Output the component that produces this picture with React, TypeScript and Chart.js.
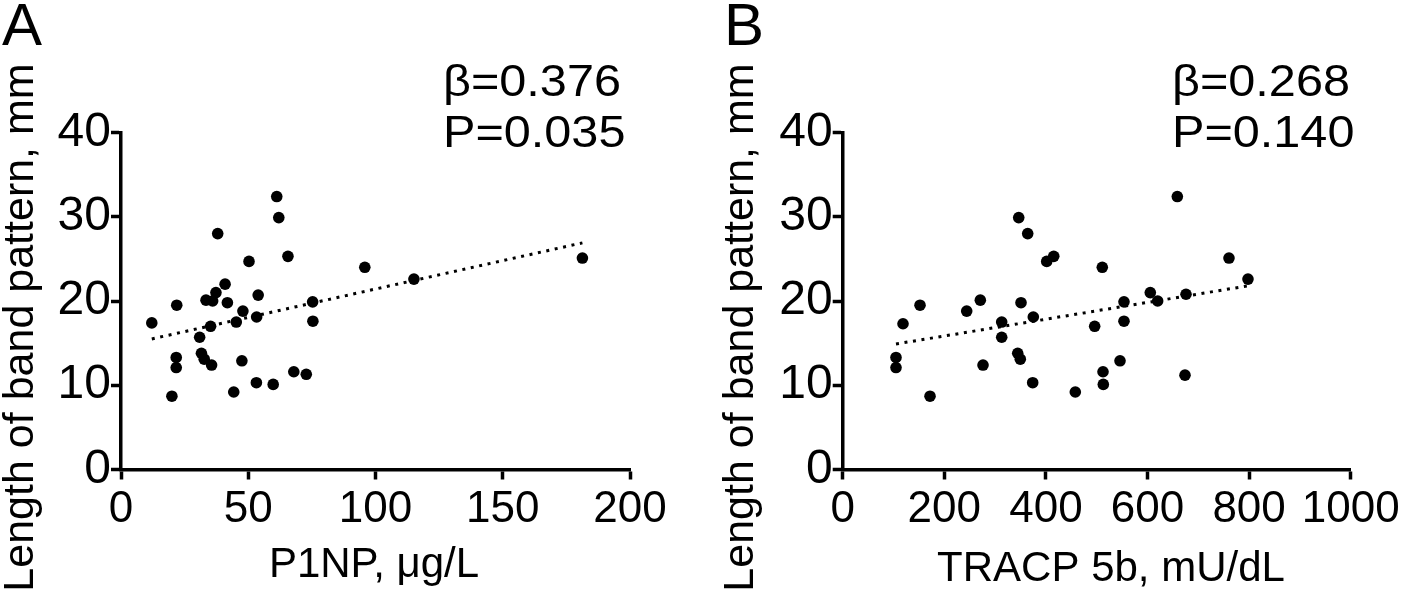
import React, { useEffect, useRef } from "react";
import { Chart, registerables } from "chart.js";

Chart.register(...registerables);

// ---- Data ----
const p1npX = [61.2, 62.0, 38.0, 65.6, 50.3, 40.9, 37.3, 53.9, 33.4, 36.0, 41.8, 21.9, 75.3, 47.9, 45.3, 53.3, 12.1, 35.2, 75.4, 30.9, 31.6, 32.7, 35.6, 21.7, 21.7, 47.5, 67.9, 72.8, 53.2, 59.8, 44.3, 20.0, 95.8, 115.1, 181.3];
const p1npY = [32.4, 29.9, 28.0, 25.3, 24.7, 22.0, 21.0, 20.7, 20.1, 20.0, 19.8, 19.5, 19.9, 18.8, 17.5, 18.1, 17.4, 17.0, 17.6, 15.7, 13.8, 13.1, 12.4, 13.3, 12.1, 12.9, 11.6, 11.3, 10.3, 10.1, 9.2, 8.7, 24.0, 22.6, 25.1];

const tracpX = [346.5, 364.2, 401.6, 415.4, 152.2, 270.9, 244.1, 351.0, 118.7, 313.0, 375.2, 313.0, 104.9, 104.9, 344.5, 349.6, 276.2, 374.0, 171.9, 457.9, 658.7, 760.4, 511.0, 797.8, 605.5, 620.0, 675.8, 553.7, 496.0, 553.7, 545.9, 512.4, 513.0, 673.8];
const tracpY = [29.9, 28.0, 24.7, 25.3, 19.5, 20.1, 18.8, 19.8, 17.3, 17.5, 18.1, 15.7, 13.3, 12.1, 13.8, 13.1, 12.4, 10.3, 8.7, 9.2, 32.4, 25.1, 24.0, 22.6, 21.0, 20.0, 20.8, 19.9, 17.0, 17.6, 12.9, 11.6, 10.1, 11.2];

const p1npTrendX = [12.1, 181.3];
const p1npTrendY = [15.5, 26.9];
const tracpTrendX = [104.9, 797.8];
const tracpTrendY = [14.9, 21.8];

const yTicks = [0, 10, 20, 30, 40];
const p1npTicks = [0, 50, 100, 150, 200];
const tracpTicks = [0, 200, 400, 600, 800, 1000];

const yTitle = "Length of band pattern, mm";
const p1npTitle = "P1NP, \u03bcg/L";
const tracpTitle = "TRACP 5b, mU/dL";
const p1npStats = ["\u03b2=0.376", "P=0.035"];
const tracpStats = ["\u03b2=0.268", "P=0.140"];

const FONT = '"Liberation Sans", Arial, Helvetica, sans-serif';
const CW = 709;
const CH = 593;

type PanelCfg = {
  left: number;
  letter: string;
  letterX: number;
  xs: number[];
  ys: number[];
  tx: number[];
  ty: number[];
  xTicks: number[];
  xTitle: string;
  xTitleX: number;
  xTitleY: number;
  stats: string[];
  statsX: number;
  yTitleX: number;
  axisLeft: number;
  axisRight: number;
};

const panels: PanelCfg[] = [
  {
    left: 0, letter: "A", letterX: 2,
    xs: p1npX, ys: p1npY, tx: p1npTrendX, ty: p1npTrendY,
    xTicks: p1npTicks, xTitle: p1npTitle, xTitleX: 374, xTitleY: 577,
    stats: p1npStats, statsX: 443, yTitleX: 33,
    axisLeft: 121, axisRight: 630,
  },
  {
    left: CW, letter: "B", letterX: 15,
    xs: tracpX, ys: tracpY, tx: tracpTrendX, ty: tracpTrendY,
    xTicks: tracpTicks, xTitle: tracpTitle, xTitleX: 402, xTitleY: 581,
    stats: tracpStats, statsX: 463, yTitleX: 44,
    axisLeft: 133.7, axisRight: 641.7,
  },
];

function Panel({ cfg }: { cfg: PanelCfg }) {
  const ref = useRef<HTMLCanvasElement | null>(null);
  useEffect(() => {
    if (!ref.current) return;
    const textPlugin = {
      id: "texts",
      afterDraw(chart: any) {
        const ctx = chart.ctx;
        ctx.save();
        ctx.fillStyle = "#000";
        ctx.textBaseline = "alphabetic";
        ctx.textAlign = "left";
        ctx.font = `60px ${FONT}`;
        ctx.fillText(cfg.letter, cfg.letterX, 45);
        ctx.font = `45px ${FONT}`;
        for (let i = 0; i < cfg.stats.length; i++) {
          ctx.save();
          ctx.translate(cfg.statsX, i === 0 ? 96 : 147);
          ctx.scale(1.08, 1);
          ctx.fillText(cfg.stats[i], 0, 0);
          ctx.restore();
        }
        ctx.font = `42px ${FONT}`;
        ctx.textAlign = "center";
        ctx.fillText(cfg.xTitle, cfg.xTitleX, cfg.xTitleY);
        ctx.translate(cfg.yTitleX, 327.5);
        ctx.rotate(-Math.PI / 2);
        ctx.font = `43px ${FONT}`;
        ctx.fillText(yTitle, 0, 0);
        ctx.restore();
      },
    };
    const axisCommon = {
      type: "linear" as const,
      border: { display: true, color: "#000", width: 3.5 },
      grid: {
        display: true,
        drawOnChartArea: false,
        drawTicks: true,
        tickLength: 10,
        tickWidth: 3.5,
        tickColor: "#000",
        color: "#000",
      },
    };
    const chart = new Chart(ref.current, {
      type: "scatter",
      data: {
        datasets: [
          {
            type: "line",
            data: cfg.tx.map((x, i) => ({ x, y: cfg.ty[i] })),
            borderColor: "#000",
            borderWidth: 3,
            borderDash: [3, 5.6],
            pointRadius: 0,
            fill: false,
            tension: 0,
          } as any,
          {
            data: cfg.xs.map((x, i) => ({ x, y: cfg.ys[i] })),
            backgroundColor: "#000",
            borderColor: "#000",
            pointRadius: 5.8,
            pointBorderWidth: 0,
            showLine: false,
          },
        ],
      },
      options: {
        animation: false,
        responsive: false,
        maintainAspectRatio: false,
        events: [],
        layout: { padding: { left: 0, right: CW - cfg.axisRight, top: 132.5, bottom: 0 } },
        plugins: { legend: { display: false }, tooltip: { enabled: false } },
        scales: {
          x: {
            ...axisCommon,
            min: cfg.xTicks[0],
            max: cfg.xTicks[cfg.xTicks.length - 1],
            afterBuildTicks: (s: any) => { s.ticks = cfg.xTicks.map((v) => ({ value: v })); },
            afterFit: (s: any) => { s.height = CH - 469.5; },
            ticks: {
              font: { family: FONT, size: 44 }, color: "#000", padding: 4, maxRotation: 0, autoSkip: false,
              callback: (v: any) => String(v),
            },
          },
          y: {
            ...axisCommon,
            min: yTicks[0],
            max: yTicks[yTicks.length - 1],
            afterBuildTicks: (s: any) => { s.ticks = yTicks.map((v) => ({ value: v })); },
            afterFit: (s: any) => { s.width = cfg.axisLeft; },
            ticks: {
              font: { family: FONT, size: 48 }, color: "#000", padding: 0, autoSkip: false,
              callback: (v: any) => String(v),
            },
          },
        },
      } as any,
      plugins: [textPlugin],
    });
    return () => chart.destroy();
  }, [cfg]);
  return (
    <canvas
      ref={ref}
      width={CW}
      height={CH}
      style={{ position: "absolute", left: cfg.left, top: 0, width: CW, height: CH, display: "block" }}
    />
  );
}

export default function App() {
  return (
    <div style={{ position: "absolute", left: 0, top: 0, width: 1418, height: 593, background: "#fff", overflow: "hidden" }}>
      {panels.map((p) => (
        <Panel key={p.letter} cfg={p} />
      ))}
    </div>
  );
}
